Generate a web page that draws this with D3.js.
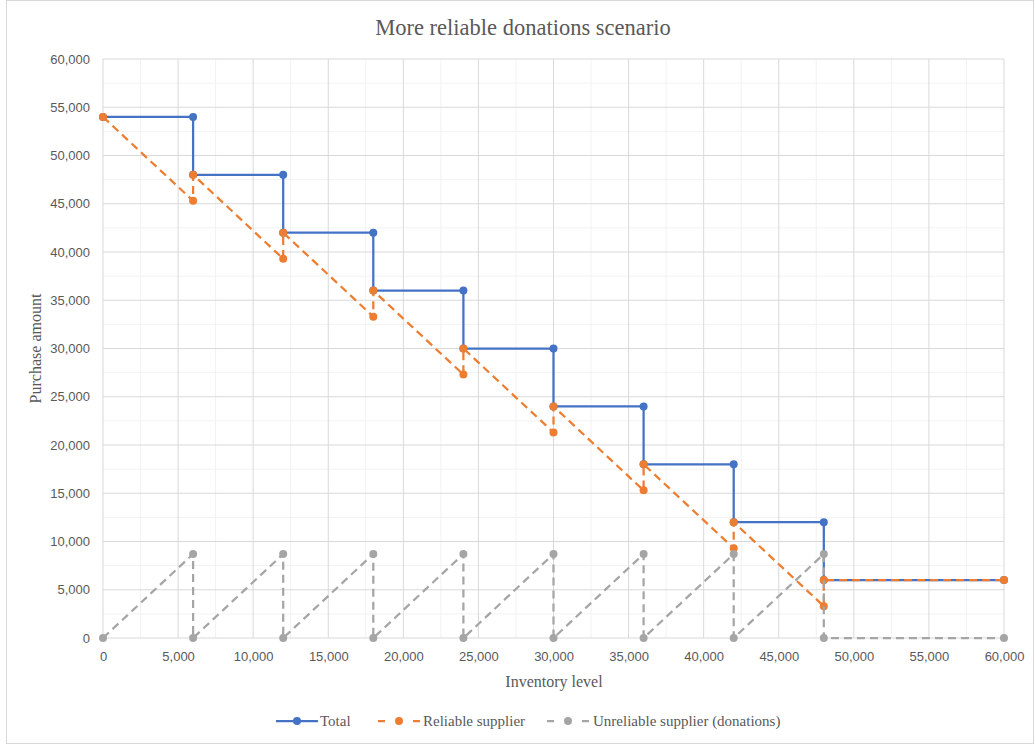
<!DOCTYPE html>
<html>
<head>
<meta charset="utf-8">
<script src="https://cdn.jsdelivr.net/npm/d3@7"></script>
<style>
  html, body { margin: 0; padding: 0; background: #fff; }
  svg { display: block; }
</style>
</head>
<body>
<div id="chart"></div>
<script>
const xTicks = [0, 5000, 10000, 15000, 20000, 25000, 30000, 35000, 40000, 45000, 50000, 55000, 60000];
const yTicks = [0, 5000, 10000, 15000, 20000, 25000, 30000, 35000, 40000, 45000, 50000, 55000, 60000];

const totalX = [0, 6000, 6000, 12000, 12000, 18000, 18000, 24000, 24000, 30000, 30000, 36000, 36000, 42000, 42000, 48000, 48000, 60000];
const totalY = [54000, 54000, 48000, 48000, 42000, 42000, 36000, 36000, 30000, 30000, 24000, 24000, 18000, 18000, 12000, 12000, 6000, 6000];

const reliableX = [0, 6000, 6000, 12000, 12000, 18000, 18000, 24000, 24000, 30000, 30000, 36000, 36000, 42000, 42000, 48000, 48000, 60000];
const reliableY = [54000, 45300, 48000, 39300, 42000, 33300, 36000, 27300, 30000, 21300, 24000, 15300, 18000, 9300, 12000, 3300, 6000, 6000];

const unreliableX = [0, 6000, 6000, 12000, 12000, 18000, 18000, 24000, 24000, 30000, 30000, 36000, 36000, 42000, 42000, 48000, 48000, 60000];
const unreliableY = [0, 8700, 0, 8700, 0, 8700, 0, 8700, 0, 8700, 0, 8700, 0, 8700, 0, 8700, 0, 0];

const seriesNames = ["Total", "Reliable supplier", "Unreliable supplier (donations)"];
const seriesColors = ["#4472c4", "#ed7d31", "#a5a5a5"];
const seriesDash = [null, "8,5", "8,5"];

const W = 1035, H = 744;
const margin = { left: 103, right: 31, top: 59, bottom: 106 };

const svg = d3.select("#chart").append("svg")
  .attr("width", W)
  .attr("height", H);

svg.append("rect")
  .attr("x", 6.5).attr("y", 0.5)
  .attr("width", W - 8).attr("height", H - 1)
  .attr("fill", "#fff")
  .attr("stroke", "#d9d9d9");

const x = d3.scaleLinear().domain([0, 60000]).range([margin.left, W - margin.right]);
const y = d3.scaleLinear().domain([0, 60000]).range([H - margin.bottom, margin.top]);

const grid = svg.append("g");
const minorTicks = d3.range(0, 60001, 2500).filter(v => v % 5000 !== 0);

grid.selectAll(".vminor").data(minorTicks).join("line")
  .attr("x1", d => x(d)).attr("x2", d => x(d))
  .attr("y1", y(0)).attr("y2", y(60000))
  .attr("stroke", "#f2f2f2").attr("stroke-width", 1);
grid.selectAll(".hminor").data(minorTicks).join("line")
  .attr("y1", d => y(d)).attr("y2", d => y(d))
  .attr("x1", x(0)).attr("x2", x(60000))
  .attr("stroke", "#f2f2f2").attr("stroke-width", 1);
grid.selectAll(".vmajor").data(xTicks).join("line")
  .attr("x1", d => x(d)).attr("x2", d => x(d))
  .attr("y1", y(0)).attr("y2", y(60000))
  .attr("stroke", "#d9d9d9").attr("stroke-width", 1);
grid.selectAll(".hmajor").data(yTicks).join("line")
  .attr("y1", d => y(d)).attr("y2", d => y(d))
  .attr("x1", x(0)).attr("x2", x(60000))
  .attr("stroke", "#d9d9d9").attr("stroke-width", 1);

const fmt = d3.format(",");
const tickFont = "'Liberation Sans', Arial, sans-serif";

const xAxis = svg.append("g")
  .attr("transform", `translate(0,${y(0)})`)
  .call(d3.axisBottom(x).tickValues(xTicks).tickFormat(fmt).tickSize(0).tickPadding(14));
const yAxis = svg.append("g")
  .attr("transform", `translate(${x(0)},0)`)
  .call(d3.axisLeft(y).tickValues(yTicks).tickFormat(fmt).tickSize(0).tickPadding(13));

[xAxis, yAxis].forEach(a => {
  a.select(".domain").remove();
  a.selectAll("text")
    .attr("fill", "#595959")
    .style("font-family", tickFont)
    .style("font-size", "13px");
});

const serif = "'Liberation Serif', 'Times New Roman', serif";

svg.append("text")
  .attr("x", 523).attr("y", 35)
  .attr("text-anchor", "middle")
  .attr("fill", "#595959")
  .style("font-family", serif)
  .style("font-size", "22.5px")
  .text("More reliable donations scenario");

svg.append("text")
  .attr("x", 554).attr("y", 687)
  .attr("text-anchor", "middle")
  .attr("fill", "#595959")
  .style("font-family", serif)
  .style("font-size", "16px")
  .text("Inventory level");

svg.append("text")
  .attr("transform", `translate(41,${(y(0) + y(60000)) / 2}) rotate(-90)`)
  .attr("text-anchor", "middle")
  .attr("fill", "#595959")
  .style("font-family", serif)
  .style("font-size", "16px")
  .text("Purchase amount");

const series = [
  d3.zip(totalX, totalY),
  d3.zip(reliableX, reliableY),
  d3.zip(unreliableX, unreliableY)
];

const line = d3.line().x(d => x(d[0])).y(d => y(d[1]));

series.forEach((pts, i) => {
  const g = svg.append("g");
  g.append("path")
    .attr("d", line(pts))
    .attr("fill", "none")
    .attr("stroke", seriesColors[i])
    .attr("stroke-width", 2.25)
    .attr("stroke-dasharray", seriesDash[i]);
  g.selectAll("circle").data(pts).join("circle")
    .attr("cx", d => x(d[0]))
    .attr("cy", d => y(d[1]))
    .attr("r", 4)
    .attr("fill", seriesColors[i]);
});

// legend
const legendItems = [
  { lx: 276, tx: 320 },
  { lx: 378, tx: 423 },
  { lx: 547, tx: 593 }
];
const legend = svg.append("g").attr("transform", "translate(0,721)");
legendItems.forEach((it, i) => {
  legend.append("line")
    .attr("x1", it.lx).attr("x2", it.lx + 42)
    .attr("y1", 0).attr("y2", 0)
    .attr("stroke", seriesColors[i])
    .attr("stroke-width", 2.25)
    .attr("stroke-dasharray", seriesDash[i] ? "7,28,7" : null);
  legend.append("circle")
    .attr("cx", it.lx + 21).attr("cy", 0).attr("r", 4)
    .attr("fill", seriesColors[i]);
  legend.append("text")
    .attr("x", it.tx).attr("y", 5)
    .attr("fill", "#595959")
    .style("font-family", serif)
    .style("font-size", "15px")
    .text(seriesNames[i]);
});
</script>
</body>
</html>
